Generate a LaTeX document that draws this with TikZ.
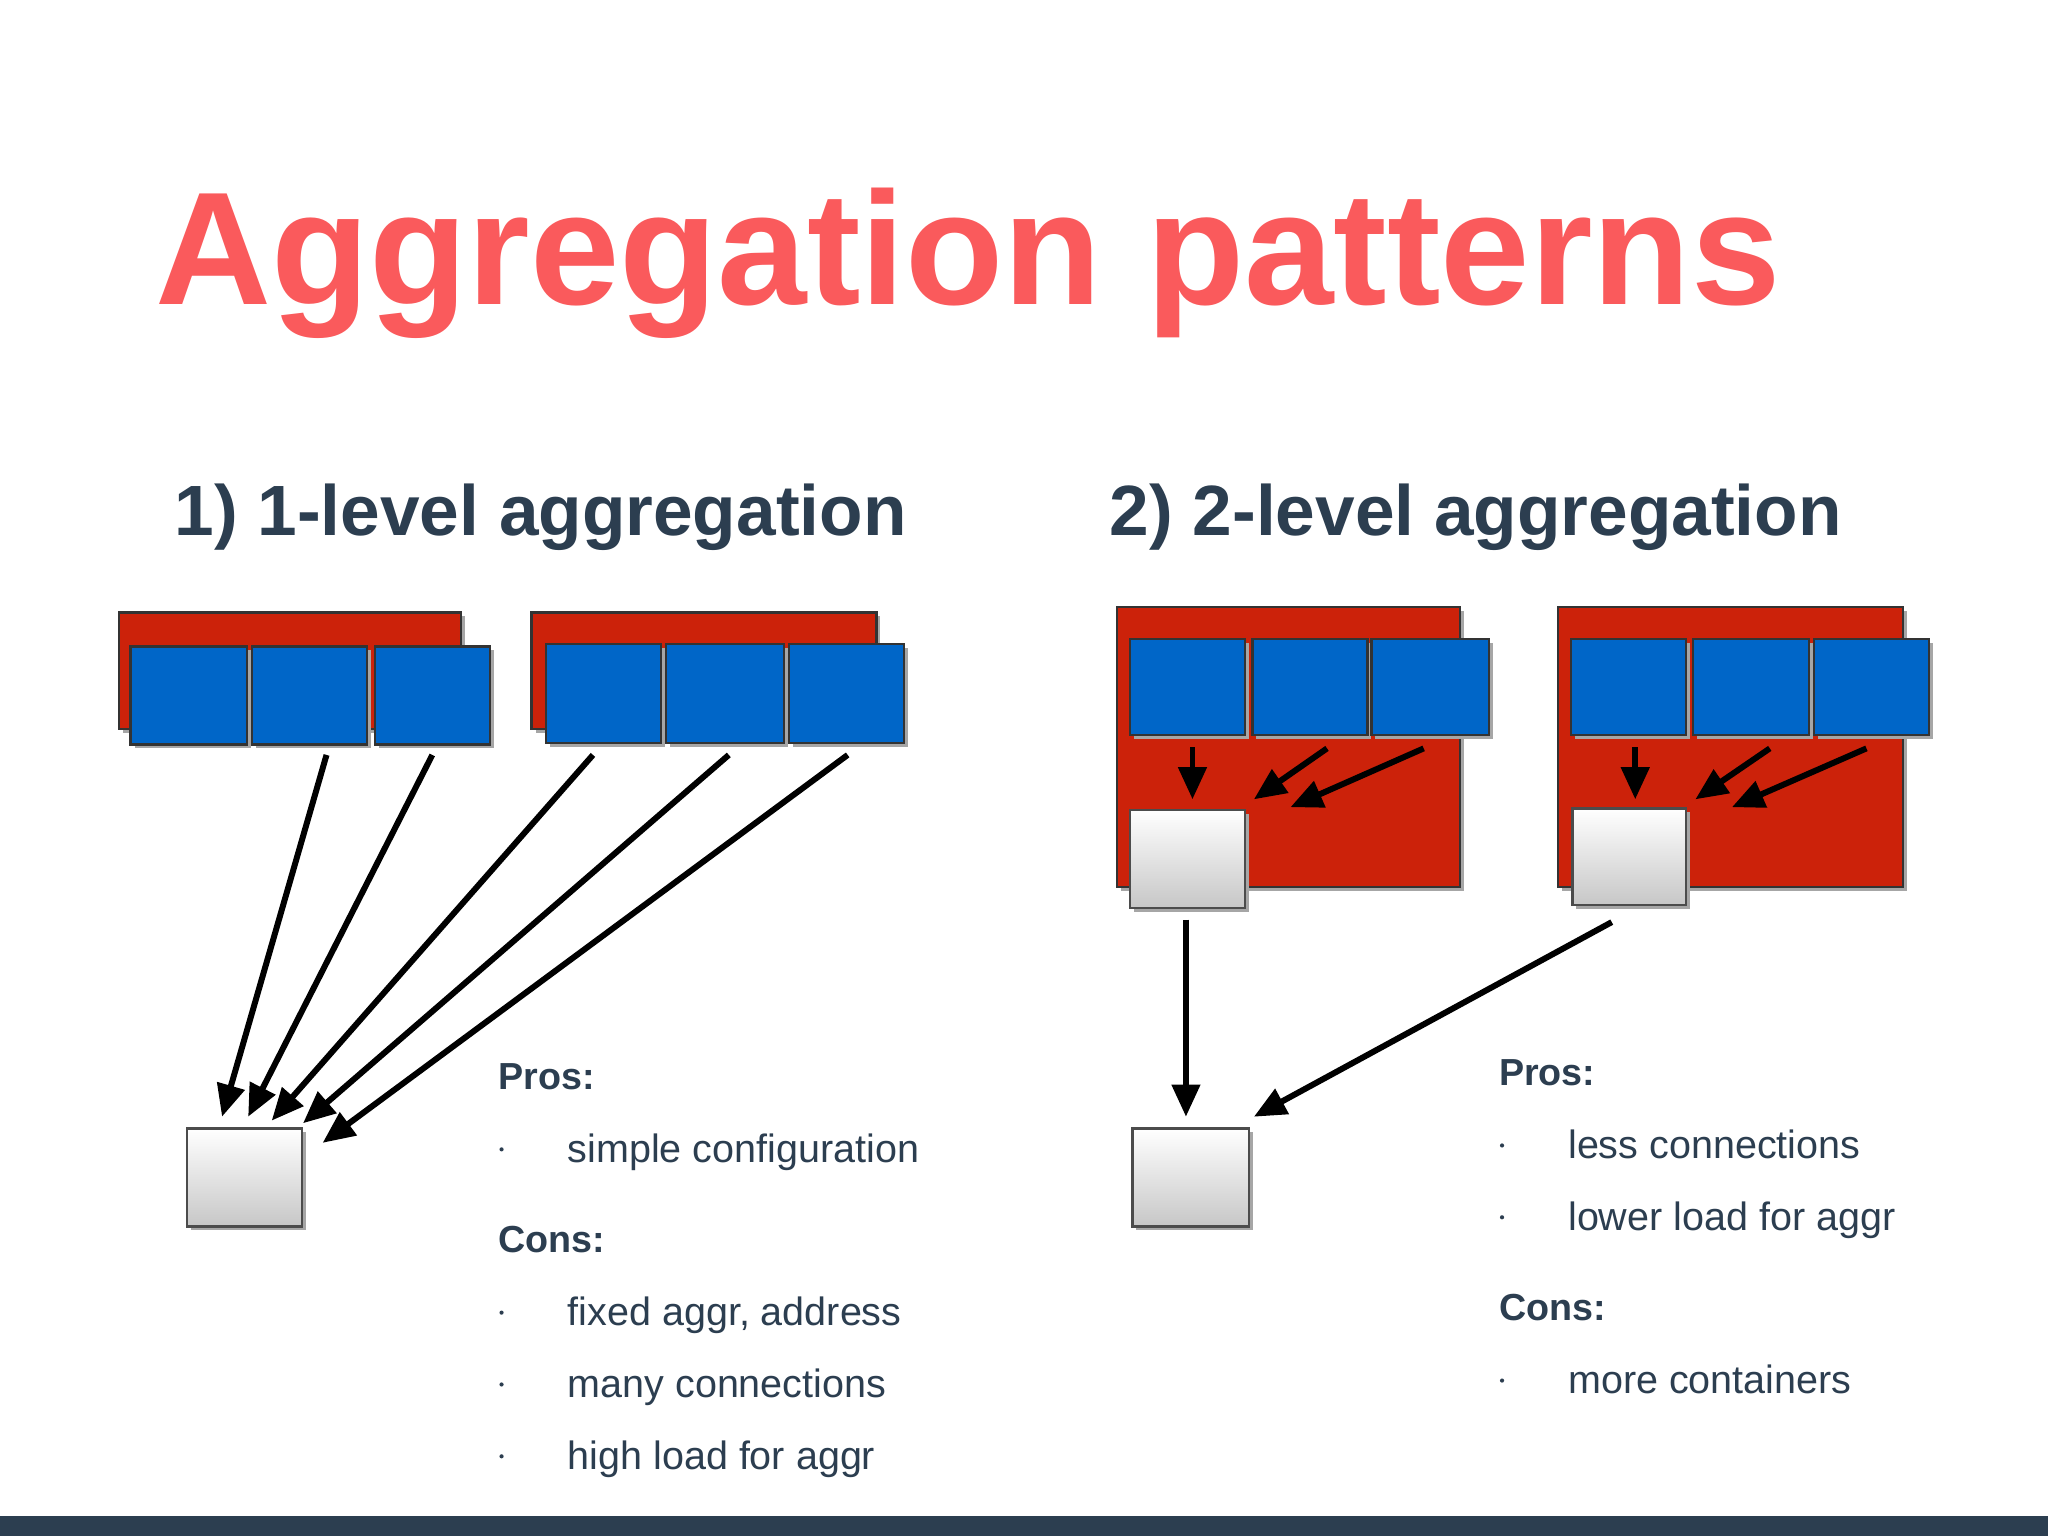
\documentclass[tikz,border=0pt]{standalone}
\usepackage{fontspec}
\setmainfont{Liberation Sans}
\usetikzlibrary{arrows.meta}
\definecolor{titlec}{RGB}{250,90,92}
\definecolor{headc}{RGB}{44,62,80}
\definecolor{redc}{RGB}{204,34,10}
\definecolor{bluec}{RGB}{0,102,200}
\tikzset{
 x=0.01cm,y=-0.01cm,
 redbox/.style={draw=black!80,fill=redc,line width=0.5pt},
 bluebox/.style={draw=black!80,fill=bluec,line width=0.5pt},
 aggbox/.style={draw=black!70,top color=white,bottom color=black!22,line width=0.5pt},
 arr/.style={-{Triangle[length=7pt,width=6pt]},line width=1.3pt},
 body/.style={anchor=base west,text=headc,font=\fontsize{8.6}{10}\selectfont,inner sep=0},
 bodyb/.style={anchor=base west,text=headc,font=\fontsize{8.2}{10}\selectfont\bfseries,inner sep=0},
}
\newcommand{\bx}[6]{\fill[black!35] (#2+3,#3+3) rectangle (#4+3,#5+3);\node[#6,inner sep=0,minimum width={(#4-#2)*0.01cm},minimum height={(#5-#3)*0.01cm}] (#1) at ({(#2+#4)/2},{(#3+#5)/2}) {};}
\begin{document}
\begin{tikzpicture}
\fill[white!97!black!3] (0,0) rectangle (1568,1176);
\useasboundingbox (0,0) rectangle (1568,1176);
\fill[headc] (0,1161) rectangle (1568,1176);
\node[anchor=base west,inner sep=0,text=titlec,font=\fontsize{35}{40}\selectfont\bfseries] (title) at (118,233) {Aggregation patterns};
\node[anchor=base west,inner sep=0,text=headc,font=\fontsize{15.5}{18}\selectfont\bfseries] (h1) at (133,410) {1) 1-level aggregation};
\node[anchor=base west,inner sep=0,text=headc,font=\fontsize{15.5}{18}\selectfont\bfseries] (h2) at (849,410) {2) 2-level aggregation};
% left
\bx{r1}{91}{469}{353}{558}{redbox}
\bx{b11}{100}{495}{189}{570}{bluebox}
\bx{b12}{193}{495}{281}{570}{bluebox}
\bx{b13}{287}{495}{375}{570}{bluebox}
\bx{r2}{407}{469}{671}{558}{redbox}
\bx{b21}{418}{493}{506}{569}{bluebox}
\bx{b22}{510}{493}{600}{569}{bluebox}
\bx{b23}{604}{493}{692}{569}{bluebox}
\bx{agg1}{143}{864}{231}{939}{aggbox}
\coordinate (s1) at (250,578); \coordinate (t1) at (170,855);
\coordinate (s2) at (331,578); \coordinate (t2) at (190,855);
\coordinate (s3) at (454,578); \coordinate (t3) at (208,858);
\coordinate (s4) at (558,578); \coordinate (t4) at (232,860);
\coordinate (s5) at (649,578); \coordinate (t5) at (247,875);
\foreach \i in {1,...,5} \draw[arr] (s\i) -- (t\i);
\node[bodyb] (p1) at (381,834) {Pros:};
\node[body] (p1a) at (434,890) {simple configuration};
\node[bodyb] (c1) at (381,959) {Cons:};
\node[body] (c1a) at (434,1015) {fixed aggr, address};
\node[body] (c1b) at (434,1070) {many connections};
\node[body] (c1c) at (434,1125) {high load for aggr};
\foreach \yy in {880,1005,1060,1115} \fill[headc] (384,\yy) circle (1.6);
% right
\bx{R1}{855}{465}{1118}{679}{redbox}
\bx{B11}{865}{489}{953}{563}{bluebox}
\bx{B12}{959}{489}{1047}{563}{bluebox}
\bx{B13}{1050}{489}{1140}{563}{bluebox}
\bx{G1}{865}{620}{953}{695}{aggbox}
\bx{R2}{1193}{465}{1457}{679}{redbox}
\bx{B21}{1203}{489}{1291}{563}{bluebox}
\bx{B22}{1296}{489}{1385}{563}{bluebox}
\bx{B23}{1389}{489}{1477}{563}{bluebox}
\bx{G2}{1204}{619}{1291}{693}{aggbox}
\bx{agg2}{867}{864}{956}{939}{aggbox}
\draw[arr] (913,572) -- (913,612);
\draw[arr] (1016,573) -- (960,612);
\draw[arr] (1090,573) -- (988,618);
\draw[arr] (1252,572) -- (1252,612);
\draw[arr] (1355,573) -- (1298,612);
\draw[arr] (1429,573) -- (1326,618);
\draw[arr] (908,704) -- (908,855);
\draw[arr] (1234,706) -- (960,855);
\node[bodyb] (p2) at (1147,831) {Pros:};
\node[body] (p2a) at (1200,887) {less connections};
\node[body] (p2b) at (1200,942) {lower load for aggr};
\node[bodyb] (c2) at (1147,1011) {Cons:};
\node[body] (c2a) at (1200,1067) {more containers};
\foreach \yy in {877,932,1057} \fill[headc] (1150,\yy) circle (1.6);
\end{tikzpicture}
\end{document}
